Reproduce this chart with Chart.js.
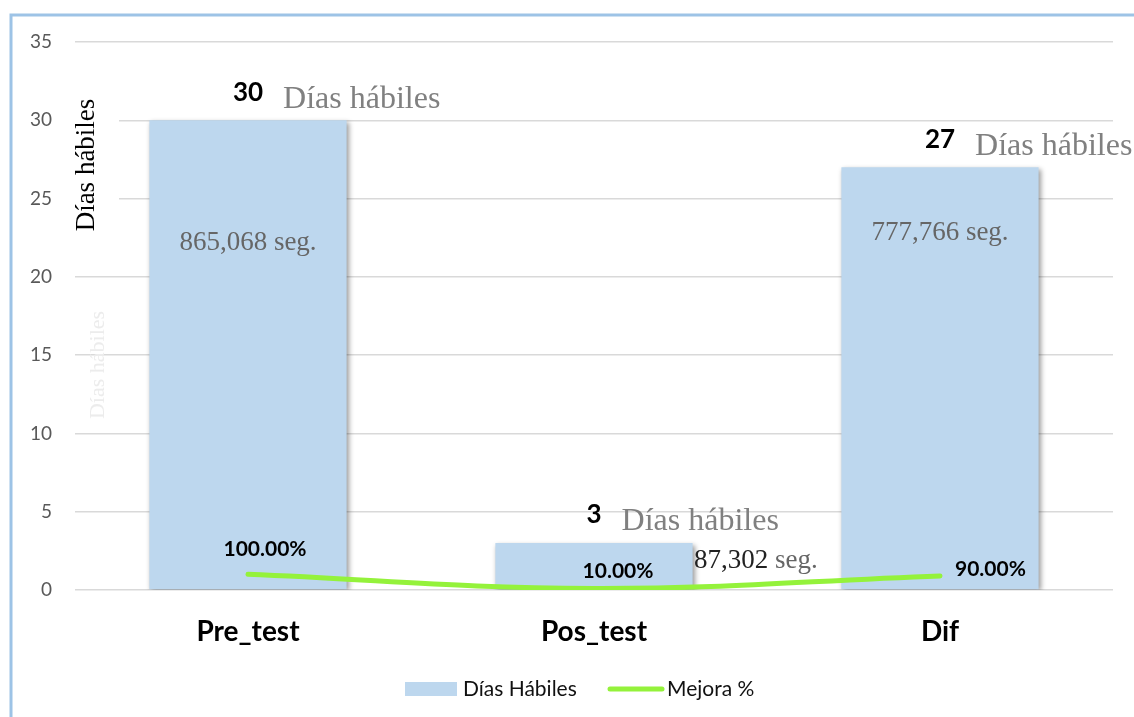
<!doctype html>
<html lang="es">
<head>
<meta charset="utf-8">
<title>Días hábiles - Pre_test / Pos_test</title>
<script src="https://cdn.jsdelivr.net/npm/chart.js"></script>
<style>
  html, body { margin: 0; padding: 0; background: #fff; }
  #wrap { width: 1134px; height: 717px; }
</style>
</head>
<body>
<div id="wrap"><canvas id="chart" width="1134" height="717"></canvas></div>
<script>
// data
const categories = ['Pre_test', 'Pos_test', 'Dif'];
const diasHabiles = [30, 3, 27];
const mejora = [1.0, 0.1, 0.9];
const segundos = ['865,068', '87,302', '777,766'];
const yTicks = [0, 5, 10, 15, 20, 25, 30, 35];

const serif = '"Liberation Serif", "Times New Roman", serif';
const sans = 'Lato, "Noto Sans", sans-serif';

// label offsets (px) around the points
const segPos = [[0, 22.2, 'center'], [0, 1.85, 'left'], [0, 22.8, 'center']];
const pctOff = [[17, -25, 'center'], [24, -17, 'center'], [15, -7, 'left']];

const extras = {
  id: 'extras',
  beforeDraw(chart) {
    const ctx = chart.ctx;
    ctx.save();
    ctx.fillStyle = '#fff';
    ctx.fillRect(0, 0, chart.width, chart.height);
    ctx.strokeStyle = '#9DC3E6';
    ctx.lineWidth = 3;
    ctx.beginPath();
    ctx.moveTo(11, chart.height);
    ctx.lineTo(11, 15);
    ctx.lineTo(chart.width, 15);
    ctx.stroke();
    ctx.restore();
  },
  beforeDatasetDraw(chart, args) {
    if (args.index === 0) {
      const ctx = chart.ctx;
      ctx.save();
      ctx.shadowColor = 'rgba(0,0,0,0.4)';
      ctx.shadowBlur = 5;
      ctx.shadowOffsetX = 2;
      ctx.shadowOffsetY = 2;
    }
  },
  afterDatasetDraw(chart, args) {
    if (args.index === 0) chart.ctx.restore();
  },
  afterDraw(chart) {
    const ctx = chart.ctx;
    const x = chart.scales.x, y = chart.scales.y;
    ctx.save();

    // axis title with white background
    ctx.fillStyle = '#fff';
    ctx.fillRect(chart.chartArea.left, 95, 44, 142);
    ctx.translate(87, 165);
    ctx.rotate(-Math.PI / 2);
    ctx.fillStyle = '#000';
    ctx.font = '27px ' + serif;
    ctx.textAlign = 'center';
    ctx.textBaseline = 'middle';
    ctx.fillText('Días hábiles', 0, 0);
    ctx.setTransform(1, 0, 0, 1, 0, 0);

    // faint ghost title
    ctx.translate(98, 365);
    ctx.rotate(-Math.PI / 2);
    ctx.fillStyle = '#ECECEC';
    ctx.font = '22px ' + serif;
    ctx.fillText('Días hábiles', 0, 0);
    ctx.setTransform(1, 0, 0, 1, 0, 0);

    // bar labels
    categories.forEach((c, i) => {
      const cx = x.getPixelForValue(i);
      const top = y.getPixelForValue(diasHabiles[i]);
      ctx.font = 'bold 26px ' + sans;
      ctx.fillStyle = '#000';
      ctx.textAlign = 'center';
      ctx.textBaseline = 'middle';
      const v = String(diasHabiles[i]);
      ctx.fillText(v, cx, top - 28);
      const w = ctx.measureText(v).width;
      ctx.font = '32px ' + serif;
      ctx.fillStyle = '#808080';
      ctx.textAlign = 'left';
      ctx.fillText('Días hábiles', cx + w / 2 + 20, top - 21);

      // seconds
      const sp = segPos[i];
      const sy = y.getPixelForValue(sp[1]);
      ctx.font = '27px ' + serif;
      if (sp[2] === 'center') {
        ctx.textAlign = 'center';
        ctx.fillStyle = '#666';
        ctx.fillText(segundos[i] + ' seg.', cx, sy);
      } else {
        const bx = cx + 100;
        ctx.textAlign = 'left';
        ctx.fillStyle = '#222';
        ctx.fillText(segundos[i], bx, sy);
        const sw = ctx.measureText(segundos[i] + ' ').width;
        ctx.fillStyle = '#666';
        ctx.fillText('seg.', bx + sw, sy);
      }

      // percent labels
      const px = cx, py = y.getPixelForValue(mejora[i]);
      const o = pctOff[i];
      ctx.font = 'bold 21px ' + sans;
      ctx.fillStyle = '#000';
      ctx.textAlign = o[2];
      ctx.fillText((mejora[i] * 100).toFixed(2) + '%', px + o[0], py + o[1]);
    });

    // legend
    const ly = 689;
    ctx.fillStyle = '#BDD7EE';
    ctx.fillRect(405, ly - 7, 52, 14);
    ctx.font = '21px ' + sans;
    ctx.fillStyle = '#111';
    ctx.textAlign = 'left';
    ctx.textBaseline = 'middle';
    ctx.fillText('Días Hábiles', 463, ly);
    ctx.strokeStyle = '#94F23B';
    ctx.lineWidth = 5;
    ctx.lineCap = 'round';
    ctx.beginPath();
    ctx.moveTo(610, ly);
    ctx.lineTo(662, ly);
    ctx.stroke();
    ctx.fillText('Mejora %', 667, ly);
    ctx.restore();
  }
};

new Chart(document.getElementById('chart'), {
  type: 'bar',
  data: {
    labels: categories,
    datasets: [
      {
        type: 'bar',
        label: 'Días Hábiles',
        data: diasHabiles,
        backgroundColor: '#BDD7EE',
        borderWidth: 0,
        categoryPercentage: 1,
        barPercentage: 0.57,
        order: 1
      },
      {
        type: 'line',
        label: 'Mejora %',
        data: mejora,
        borderColor: '#94F23B',
        borderWidth: 5,
        borderCapStyle: 'round',
        tension: 0.4,
        pointRadius: 0,
        fill: false,
        order: 0
      }
    ]
  },
  options: {
    responsive: false,
    animation: false,
    layout: { padding: { left: 10, right: 21, top: 42, bottom: 47 } },
    plugins: {
      legend: { display: false },
      tooltip: { enabled: false }
    },
    scales: {
      x: {
        grid: { display: false },
        border: { display: false },
        ticks: {
          color: '#000',
          padding: 17,
          font: { family: sans, size: 28, weight: 'bold' }
        },
        afterFit(s) { s.height = 80; }
      },
      y: {
        min: 0,
        max: 35,
        afterBuildTicks(s) { s.ticks = yTicks.map(v => ({ value: v })); },
        grid: { color: '#D9D9D9', lineWidth: 1.5, drawTicks: false },
        border: { display: false },
        ticks: {
          color: '#595959',
          padding: 23,
          font: { family: sans, size: 19 }
        },
        afterFit(s) { s.width = 65; }
      }
    }
  },
  plugins: [extras]
});
</script>
</body>
</html>
